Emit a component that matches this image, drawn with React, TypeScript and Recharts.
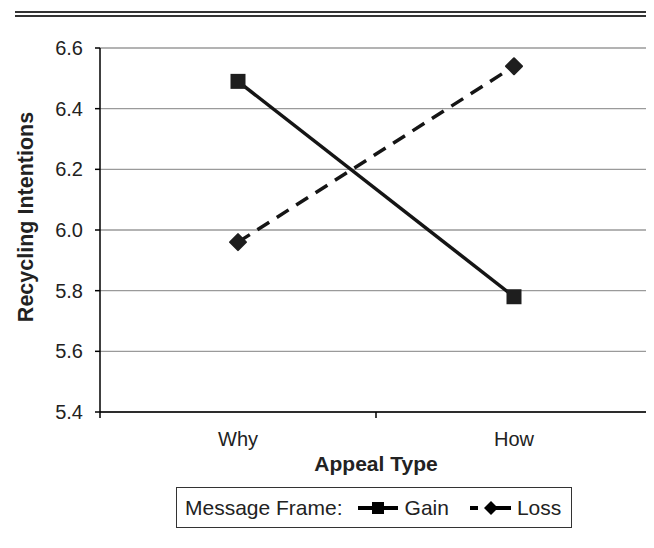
import React from 'react';
import { LineChart, Line, XAxis, YAxis, CartesianGrid } from 'recharts';

const appealTypes = ['Why', 'How'];
const gainValues = [6.49, 5.78];
const lossValues = [5.96, 6.54];
const yTicks = [5.4, 5.6, 5.8, 6.0, 6.2, 6.4, 6.6];
const seriesNames = ['Gain', 'Loss'];
const legendTitle = 'Message Frame:';
const yTitle = 'Recycling Intentions';
const xTitle = 'Appeal Type';

const data = appealTypes.map((a, i) => ({ appeal: a, gain: gainValues[i], loss: lossValues[i] }));

const FONT = '"Liberation Sans", Arial, Helvetica, sans-serif';
const INK = '#151515';
const CHART_W = 654;
const CHART_H = 548;
const Y_AXIS_W = 100;
const RIGHT_M = 2;
const PLOT_W = CHART_W - Y_AXIS_W - RIGHT_M;
const BAND = PLOT_W / appealTypes.length;

const SquareDot = (props: any) => {
  const { cx, cy } = props;
  if (cx == null || cy == null) return null;
  return <rect x={cx - 7.5} y={cy - 7.5} width={15} height={15} fill="#1e1e1e" />;
};

const DiamondDot = (props: any) => {
  const { cx, cy } = props;
  if (cx == null || cy == null) return null;
  const r = 8;
  return (
    <polygon
      points={`${cx},${cy - r} ${cx + r},${cy} ${cx},${cy + r} ${cx - r},${cy}`}
      fill="#1e1e1e"
      stroke="#1e1e1e"
      strokeWidth={2}
      strokeLinejoin="round"
    />
  );
};

const CategoryTick = (props: any) => {
  const { x, y, payload, index } = props;
  const axisY = y - 20;
  const isLast = index === appealTypes.length - 1;
  return (
    <g>
      <line x1={x - BAND / 2} y1={axisY} x2={x - BAND / 2} y2={axisY + 6} stroke="#000" strokeWidth={1.5} />
      {isLast && (
        <line x1={x + BAND / 2} y1={axisY} x2={x + BAND / 2} y2={axisY + 6} stroke="#000" strokeWidth={1.5} />
      )}
      <text x={x} y={y} dy="0.71em" textAnchor="middle" fontFamily={FONT} fontSize={20} fill="#222">
        {payload.value}
      </text>
    </g>
  );
};

const YTitle = (props: any) => {
  const vb = props.viewBox || {};
  const cx = 26;
  const cy = (vb.y ?? 48) + (vb.height ?? 364) / 2 - 13;
  return (
    <text
      x={cx}
      y={cy}
      transform={`rotate(-90 ${cx} ${cy})`}
      textAnchor="middle"
      dominantBaseline="central"
      fontFamily={FONT}
      fontWeight="bold"
      fontSize={21.5}
      fill="#222"
    >
      {yTitle}
    </text>
  );
};

const XTitle = (props: any) => {
  const vb = props.viewBox || {};
  const cx = (vb.x ?? 100) + (vb.width ?? 552) / 2;
  const y = (vb.y ?? 412) + 59;
  return (
    <text x={cx} y={y} textAnchor="middle" fontFamily={FONT} fontWeight="bold" fontSize={21} fill="#222">
      {xTitle}
    </text>
  );
};

const LegendBox = () => (
  <div
    style={{
      position: 'absolute',
      left: 176,
      top: 487,
      width: 396,
      height: 41,
      boxSizing: 'border-box',
      border: '1.5px solid #333',
      background: '#fff',
      display: 'flex',
      alignItems: 'center',
      fontFamily: FONT,
      fontSize: 21,
      color: '#222',
      paddingLeft: 8,
      whiteSpace: 'nowrap',
    }}
  >
    <span>{legendTitle}</span>
    <svg width={42} height={20} style={{ marginLeft: 14 }}>
      <line x1={1} y1={10} x2={41} y2={10} stroke="#000" strokeWidth={4} />
      <rect x={15} y={4} width={12} height={12} fill="#000" />
    </svg>
    <span style={{ marginLeft: 6 }}>{seriesNames[0]}</span>
    <svg width={42} height={20} style={{ marginLeft: 21 }}>
      <line x1={0} y1={10} x2={8} y2={10} stroke="#000" strokeWidth={4} />
      <line x1={26} y1={10} x2={41} y2={10} stroke="#000" strokeWidth={4} />
      <polygon points="21,3 28,10 21,17 14,10" fill="#000" />
    </svg>
    <span style={{ marginLeft: 5 }}>{seriesNames[1]}</span>
  </div>
);

export default function App() {
  return (
    <div style={{ position: 'relative', width: CHART_W, height: CHART_H, margin: -8, background: '#fff', overflow: 'hidden' }}>
      <div style={{ position: 'absolute', left: 15, right: 0, top: 11, height: 2, background: '#333' }} />
      <div style={{ position: 'absolute', left: 15, right: 0, top: 15, height: 2, background: '#333' }} />
      <div style={{ position: 'absolute', left: 0, top: 0 }}>
        <LineChart width={CHART_W} height={CHART_H} data={data} margin={{ top: 48, right: RIGHT_M, bottom: 74, left: 0 }}>
          <CartesianGrid vertical={false} stroke="#9a9a9a" strokeWidth={1.3} />
          <XAxis
            dataKey="appeal"
            scale="band"
            tickLine={false}
            tickSize={0}
            tickMargin={20}
            interval={0}
            axisLine={{ stroke: '#000', strokeWidth: 1.5 }}
            tick={<CategoryTick />}
            height={62}
            label={<XTitle />}
          />
          <YAxis
            type="number"
            domain={[5.4, 6.6]}
            ticks={yTicks}
            interval={0}
            width={Y_AXIS_W}
            tickFormatter={(v: number) => v.toFixed(1)}
            axisLine={{ stroke: '#000', strokeWidth: 1.5 }}
            tickLine={{ stroke: '#000', strokeWidth: 1.5 }}
            tickSize={5}
            tickMargin={12}
            tick={{ fill: '#222', fontSize: 20, fontFamily: FONT }}
            label={<YTitle />}
          />
          <Line
            type="linear"
            dataKey="gain"
            name={seriesNames[0]}
            stroke={INK}
            strokeWidth={3.5}
            dot={<SquareDot />}
            activeDot={false}
            isAnimationActive={false}
          />
          <Line
            type="linear"
            dataKey="loss"
            name={seriesNames[1]}
            stroke={INK}
            strokeWidth={3.5}
            strokeDasharray="14 9"
            dot={<DiamondDot />}
            activeDot={false}
            isAnimationActive={false}
          />
        </LineChart>
      </div>
      <LegendBox />
    </div>
  );
}
